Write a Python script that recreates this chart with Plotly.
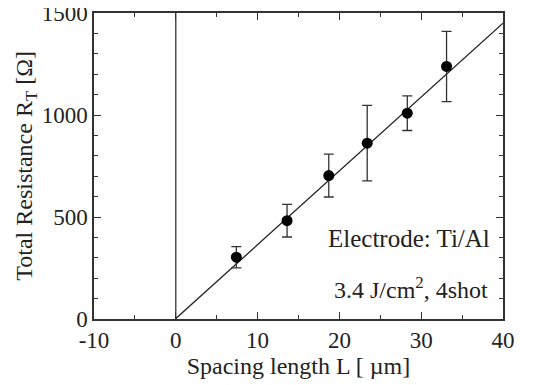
import plotly.graph_objects as go

# Data
L_um = [7.4, 13.6, 18.7, 23.4, 28.3, 33.1]
R_T = [303, 482, 703, 862, 1009, 1238]
R_err = [52, 80, 105, 185, 85, 172]

# Linear fit parameters (slope, intercept) as seen on the chart
fit_slope = 36.2
fit_intercept = 2.0
fit_x = [0, 40]

x_ticks = [-10, 0, 10, 20, 30, 40]
x_tick_labels = ["-10", "0", "10", "20", "30", "40"]
y_ticks = [0, 500, 1000, 1500]
y_tick_labels = ["0", "500", "1000", "1500"]

font_family = "Liberation Serif, Times New Roman, serif"

fig = go.Figure()

# vertical line at L = 0
fig.add_trace(go.Scatter(x=[0, 0], y=[0, 1500], mode="lines",
                         line=dict(color="#222", width=1.2), showlegend=False,
                         hoverinfo="skip"))

# fit line
fig.add_trace(go.Scatter(x=fit_x, y=[fit_slope * v + fit_intercept for v in fit_x],
                         mode="lines", line=dict(color="#222", width=1.3),
                         showlegend=False))

# data with error bars
fig.add_trace(go.Scatter(x=L_um, y=R_T, mode="markers",
                         marker=dict(color="black", size=11),
                         error_y=dict(type="data", array=R_err, visible=True,
                                      color="#333", thickness=1.3, width=5),
                         showlegend=False))

axis_common = dict(showgrid=False, zeroline=False, showline=True, linecolor="#333",
                   linewidth=1.5, mirror="allticks", ticks="inside", tickcolor="#333",
                   tickwidth=1.3, automargin=False, ticklabeloverflow="allow",
                   tickfont=dict(family=font_family, size=23, color="#222"))

fig.update_xaxes(range=[-10, 40], tickvals=x_ticks, ticktext=x_tick_labels, ticklen=7,
                 minor=dict(dtick=5, tick0=0, ticks="inside", ticklen=4, tickcolor="#333", tickwidth=1.2),
                 title=dict(text="Spacing length L [ µm]", standoff=1,
                            font=dict(family=font_family, size=24, color="#222")),
                 **axis_common)
fig.update_yaxes(range=[0, 1500], tickvals=y_ticks, ticktext=y_tick_labels, ticklen=7,
                 minor=dict(dtick=100, tick0=0, ticks="inside", ticklen=4, tickcolor="#333", tickwidth=1.2),
                 **axis_common)

# y-axis title as a rotated annotation for exact placement
fig.add_annotation(x=-0.167, y=0.5, xref="paper", yref="paper",
                   text="Total Resistance R<sub>T</sub> [Ω]", textangle=-90,
                   showarrow=False, xanchor="center", yanchor="middle",
                   font=dict(family=font_family, size=24, color="#222"))

fig.add_annotation(x=38.6, y=397, xref="x", yref="y", text="Electrode: Ti/Al",
                   showarrow=False, xanchor="right", yanchor="middle",
                   font=dict(family=font_family, size=25, color="#222"))
fig.add_annotation(x=38.4, y=150, xref="x", yref="y", text="3.4 J/cm<sup>2</sup>, 4shot",
                   showarrow=False, xanchor="right", yanchor="middle",
                   font=dict(family=font_family, size=24, color="#222"))

# page body has an 8px offset; margins compensate so the plot area lands where the reference has it
fig.update_layout(width=549, height=385, margin=dict(l=86, r=54, t=5, b=74),
                  plot_bgcolor="white", paper_bgcolor="white",
                  font=dict(family=font_family, size=22, color="#222"))

fig.write_html("out.html")
